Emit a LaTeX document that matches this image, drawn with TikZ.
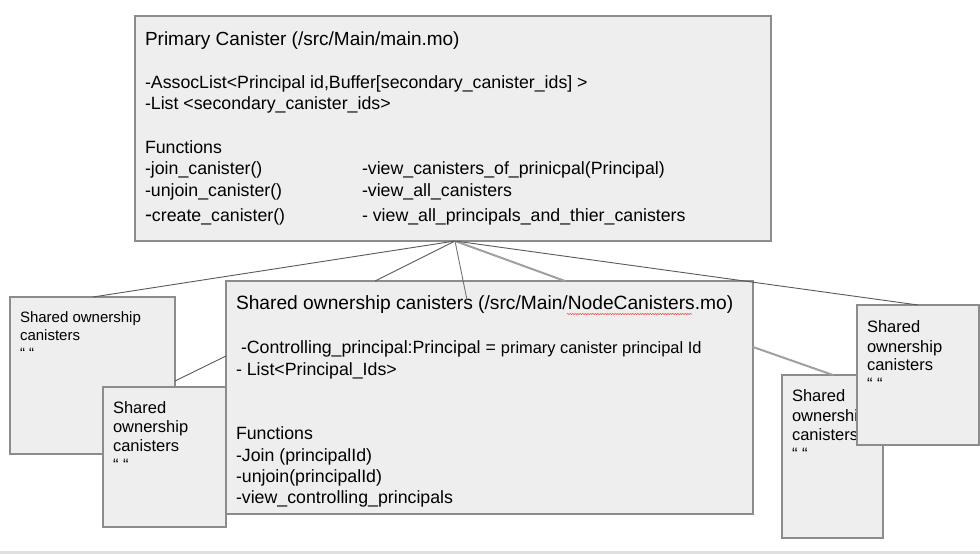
\documentclass[tikz,border=0pt]{standalone}
\usepackage{fontspec}
\setmainfont{Liberation Sans}
\usetikzlibrary{decorations.pathmorphing}
\definecolor{boxfill}{HTML}{EEEEEE}
\definecolor{boxline}{HTML}{8C8C8C}
\definecolor{darkln}{HTML}{5A5A5A}
\definecolor{lightln}{HTML}{A0A0A0}
\begin{document}
\begin{tikzpicture}[x=1pt,y=-1pt,
  box/.style={draw=boxline,fill=boxfill,line width=1.3pt,anchor=north west,inner sep=0pt,outer sep=0pt},
  txt/.style={anchor=base west,inner sep=0pt,outer sep=0pt,text=black},
  ttl/.style={txt,font=\fontsize{19pt}{22pt}\selectfont},
  bod/.style={txt,font=\fontsize{17.75pt}{21pt}\selectfont},
  sml/.style={txt,font=\fontsize{15pt}{18pt}\selectfont},
  mid/.style={txt,font=\fontsize{16.5pt}{19.5pt}\selectfont},
  thin/.style={draw=darkln,line width=0.9pt},
  thick/.style={draw=lightln,line width=2pt}]
\useasboundingbox (0,0) rectangle (980,554);
\fill[white] (0,0) rectangle (980,554);
\fill[black!12] (0,550.5) rectangle (980,554);

% primary canister
\node[box,minimum width=636pt,minimum height=225pt] (prim) at (135,16) {};
\node[ttl] (p0) at (145,45) {Primary Canister (/src/Main/main.mo)};
\node[bod] (p1) at (145,88) {-AssocList<Principal id,Buffer[secondary\_canister\_ids] >};
\node[bod] (p2) at (145,109) {-List <secondary\_canister\_ids>};
\node[bod] (p3) at (145,153) {Functions};
\node[bod] (p4) at (145,174) {-join\_canister()};
\node[bod] (p5) at (145,196) {-unjoin\_canister()};
\node[bod] (p6) at (145,221) {{\fontsize{21pt}{22pt}\selectfont -}create\_canister()};
\node[bod] (q4) at (362,174) {-view\_canisters\_of\_prinicpal(Principal)};
\node[bod] (q5) at (362,196) {-view\_all\_canisters};
\node[bod] (q6) at (362,221) {- view\_all\_principals\_and\_thier\_canisters};

% left boxes
\node[box,minimum width=165pt,minimum height=157pt] (b1) at (10,297) {};
\node[sml] (b1a) at (20,322) {Shared ownership};
\node[sml] (b1b) at (20,340) {canisters};
\node[sml] (b1c) at (20,358) {“ “};

\node[box,minimum width=123pt,minimum height=140pt] (b2) at (103,387) {};
\node[mid] (b2a) at (113,413) {Shared};
\node[mid] (b2b) at (113,432) {ownership};
\node[mid] (b2c) at (113,451) {canisters};
\node[mid] (b2d) at (113,470) {“ “};

% central box
\node[box,minimum width=527pt,minimum height=233pt] (cen) at (226,281) {};
\node[ttl,font=\fontsize{19.2pt}{22pt}\selectfont] (c0) at (236,309) {Shared ownership canisters (/src/Main/NodeCanisters.mo)};
\node[bod] (c1) at (241,353) {-Controlling\_principal:Principal = {\fontsize{16.4pt}{19pt}\selectfont primary canister principal Id}};
\node[bod] (c2) at (236,375) {- List<Principal\_Ids>};
\node[bod] (c3) at (236,439) {Functions};
\node[bod] (c4) at (236,461) {-Join (principalId)};
\node[bod] (c5) at (236,482) {-unjoin(principalId)};
\node[bod] (c6) at (236,503) {-view\_controlling\_principals};
\draw[red!80,line width=0.5pt,decorate,decoration={snake,amplitude=0.6pt,segment length=2.5pt}] (567,314) -- (692,314);

% right boxes
\node[box,minimum width=101pt,minimum height=163pt] (b4) at (782,375) {};
\node[mid] (b4a) at (792,401) {Shared};
\node[mid] (b4b) at (792,421) {ownership};
\node[mid] (b4c) at (792,440) {canisters};
\node[mid] (b4d) at (792,459) {“ “};

\node[box,minimum width=122pt,minimum height=140pt] (b5) at (857,305) {};
\node[mid] (b5a) at (867,332) {Shared};
\node[mid] (b5b) at (867,352) {ownership};
\node[mid] (b5c) at (867,370) {canisters};
\node[mid] (b5d) at (867,389) {“ “};

% connectors
\coordinate (apex) at ([xshift=320pt]prim.south west);
\coordinate (cenin) at ([xshift=241pt,yshift=-19pt]cen.north west);
\draw[thin] (apex) -- ([xshift=83pt]b1.north west);
\draw[thin] (apex) -- ([xshift=149pt]cen.north west);
\draw[thin,draw=black!55] (apex) -- (cenin);
\draw[thick] (apex) -- ([xshift=339pt]cen.north west);
\draw[thin] (apex) -- ([xshift=61pt]b5.north west);
\draw[thin] ([yshift=-84pt]b1.north east) -- ([yshift=-75pt]cen.north west);
\draw[thick] ([yshift=-66pt]cen.north east) -- ([xshift=51pt]b4.north west);
\end{tikzpicture}
\end{document}
